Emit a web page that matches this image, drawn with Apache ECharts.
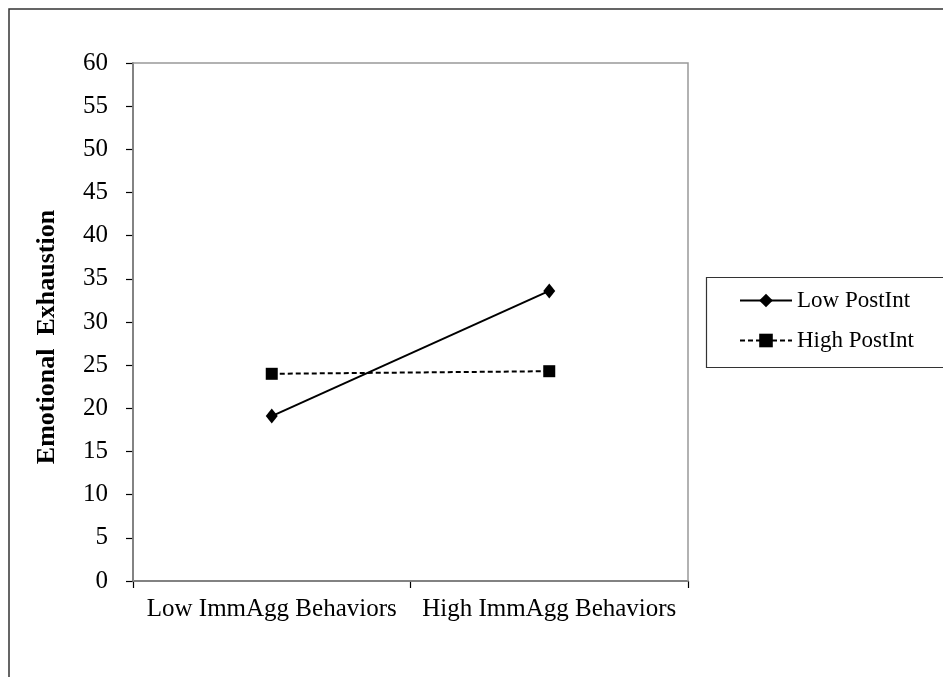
<!DOCTYPE html>
<html><head><meta charset="utf-8">
<script src="https://cdn.jsdelivr.net/npm/echarts@6/dist/echarts.min.js"></script>
<style>html,body{margin:0;padding:0;background:#fff}#c{width:943px;height:677px}</style>
</head><body><div id="c"></div>
<script>
const categories = ['Low ImmAgg Behaviors', 'High ImmAgg Behaviors'];
const lowPostInt = [19.1, 33.6];
const highPostInt = [24.0, 24.3];
const seriesNames = ['Low PostInt', 'High PostInt'];
const yTitle = 'Emotional  Exhaustion';

const font = 'Liberation Serif';
const chart = echarts.init(document.getElementById('c'), null, {renderer: 'canvas'});
chart.setOption({
  animation: false,
  backgroundColor: '#fff',
  grid: {left: 133, top: 63, width: 555, height: 518, show: true, borderColor: '#999', borderWidth: 1.5, backgroundColor: 'transparent', z: 1},
  graphic: [
    {type: 'rect', shape: {x: 9, y: 9, width: 1000, height: 1000}, style: {fill: 'none', stroke: '#333', lineWidth: 1.5}, z: 0},
    {type: 'rect', shape: {x: 706.5, y: 277.5, width: 300, height: 90}, style: {fill: 'none', stroke: '#333', lineWidth: 1.2}, z: 0},
    {type: 'text', x: 47, y: 337, rotation: Math.PI / 2,
     style: {text: yTitle, font: 'bold 26px "Liberation Serif"', fill: '#000', textAlign: 'center', textVerticalAlign: 'middle'}}
  ],
  legend: {
    orient: 'vertical', left: 739, top: 289, itemWidth: 52, itemHeight: 17, itemGap: 17, padding: 0,
    textStyle: {fontFamily: font, fontSize: 23, color: '#000'},
    data: seriesNames
  },
  xAxis: {
    type: 'category', data: categories, boundaryGap: true,
    axisLine: {lineStyle: {color: '#000', width: 1.5}},
    axisTick: {show: true, length: 7, lineStyle: {color: '#000', width: 1.2}},
    axisLabel: {fontFamily: font, fontSize: 25, color: '#000', margin: 16, interval: 0},
    splitLine: {show: false}
  },
  yAxis: {
    type: 'value', min: 0, max: 60, interval: 5,
    axisLine: {show: true, lineStyle: {color: '#000', width: 1.5}},
    axisTick: {show: true, length: 7, lineStyle: {color: '#000', width: 1.2}},
    axisLabel: {fontFamily: font, fontSize: 25, color: '#000', margin: 25},
    splitLine: {show: false}
  },
  series: [
    {name: seriesNames[0], type: 'line', data: lowPostInt, symbol: 'diamond', symbolSize: [12, 15],
     itemStyle: {color: '#000'}, lineStyle: {color: '#000', width: 2, type: 'solid'}, z: 3},
    {name: seriesNames[1], type: 'line', data: highPostInt, symbol: 'rect', symbolSize: 12,
     itemStyle: {color: '#000'}, lineStyle: {color: '#000', width: 2, type: [5, 3]}, z: 3}
  ]
});
</script></body></html>
